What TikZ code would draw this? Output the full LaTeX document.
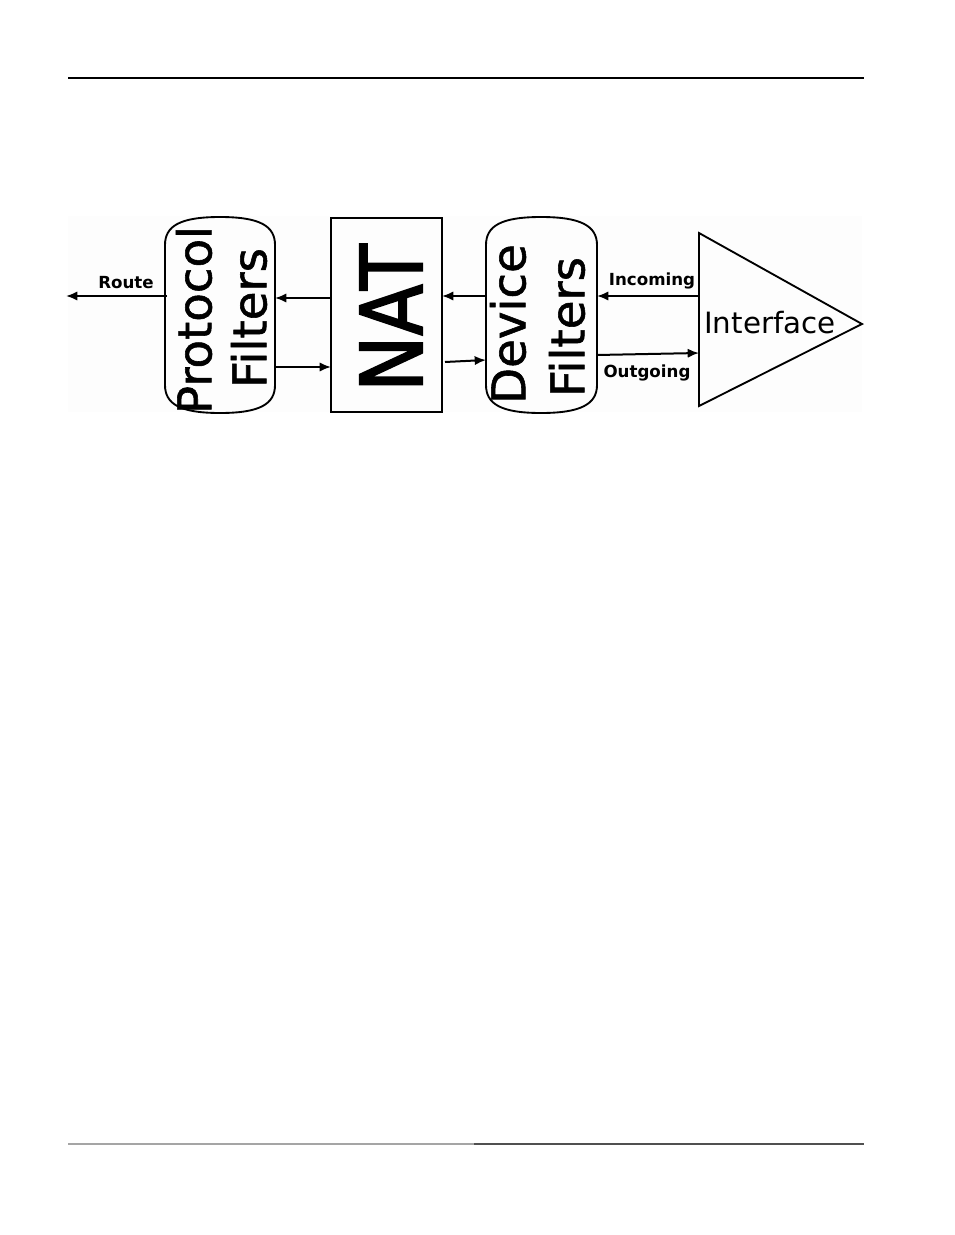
\documentclass[tikz,border=0pt]{standalone}
\usepackage{fontspec}
\setmainfont{DejaVu Sans}
\newfontfamily\heavyfont[FakeBold=1.2]{DejaVu Sans}
\newfontfamily\natfont[FakeBold=2.2]{DejaVu Sans}
\usetikzlibrary{arrows.meta}
\begin{document}
\begin{tikzpicture}[x=0.75pt,y=-0.75pt,
  flow/.style={line width=1.5pt,-{Latex[length=8.5pt,width=7pt]}},
  shapeline/.style={line width=1.4pt},
  bigtxt/.style={rotate=90,inner sep=0pt,font=\heavyfont\fontsize{35}{35}\selectfont},
  lbl/.style={inner sep=0pt,anchor=base,font=\fontsize{12.5}{13}\selectfont\bfseries}]
\useasboundingbox (0,0) rectangle (954,1235);
% page rules
\draw[line width=1pt] (68,78) -- (864,78);
\draw[line width=1.3pt,draw={rgb,255:red,165;green,165;blue,165}] (68,1144) -- (474,1144);
\draw[line width=1.3pt,draw={rgb,255:red,80;green,80;blue,80}] (474,1144) -- (864,1144);
% faint background
\fill[fill={rgb,255:red,253;green,253;blue,253}] (68,216) rectangle (862,412);
% Protocol filters cylinder
\draw[shapeline] (165,245) .. controls (165,226) and (180,217) .. (220,217)
  .. controls (260,217) and (275,226) .. (275,245) -- (275,385)
  .. controls (275,404) and (260,413) .. (220,413)
  .. controls (180,413) and (165,404) .. (165,385) -- cycle;
\node[bigtxt] (prot) at (194,320) {Protocol};
\node[bigtxt] (pfil) at (249,318) {Filters};
% NAT box
\draw[shapeline] (331,218) rectangle (442,412);
\node[rotate=90,inner sep=0pt,font=\natfont\fontsize{64}{64}\selectfont] (nat) at (391,318) {\scalebox{0.88}[1]{NAT}};
% Device filters cylinder
\draw[shapeline] (486,245) .. controls (486,226) and (501,217) .. (541,217)
  .. controls (581,217) and (597,226) .. (597,245) -- (597,385)
  .. controls (597,404) and (581,413) .. (541,413)
  .. controls (501,413) and (486,404) .. (486,385) -- cycle;
\node[bigtxt] (dev) at (508,324) {Device};
\node[bigtxt] (dfil) at (567,327) {Filters};
% Interface triangle
\draw[shapeline,line join=miter] (699,233) -- (862,324) -- (699,406) -- cycle;
\node[inner sep=0pt,anchor=base,font=\fontsize{22}{22}\selectfont] (intf) at (770,333) {Interface};
% connector end points
\coordinate (routeS) at (167,296);
\coordinate (routeE) at (66,296);
\coordinate (n2pS) at (331,298);
\coordinate (n2pE) at (275,298);
\coordinate (p2nS) at (275,367);
\coordinate (p2nE) at (331,367);
\coordinate (d2nS) at (486,296);
\coordinate (d2nE) at (442,296);
\coordinate (n2dS) at (445,362);
\coordinate (n2dE) at (486,360);
\coordinate (inS) at (699,296);
\coordinate (inE) at (597,296);
\coordinate (outS) at (597,355);
\coordinate (outE) at (699,353);
\draw[flow] (routeS) -- (routeE);
\draw[flow] (n2pS) -- (n2pE);
\draw[flow] (p2nS) -- (p2nE);
\draw[flow] (d2nS) -- (d2nE);
\draw[flow] (n2dS) -- (n2dE);
\draw[flow] (inS) -- (inE);
\draw[flow] (outS) -- (outE);
% labels
\node[lbl] (route) at (126,288) {Route};
\node[lbl] (inc) at (652,285) {Incoming};
\node[lbl] (outg) at (647,377) {Outgoing};
\end{tikzpicture}
\end{document}
